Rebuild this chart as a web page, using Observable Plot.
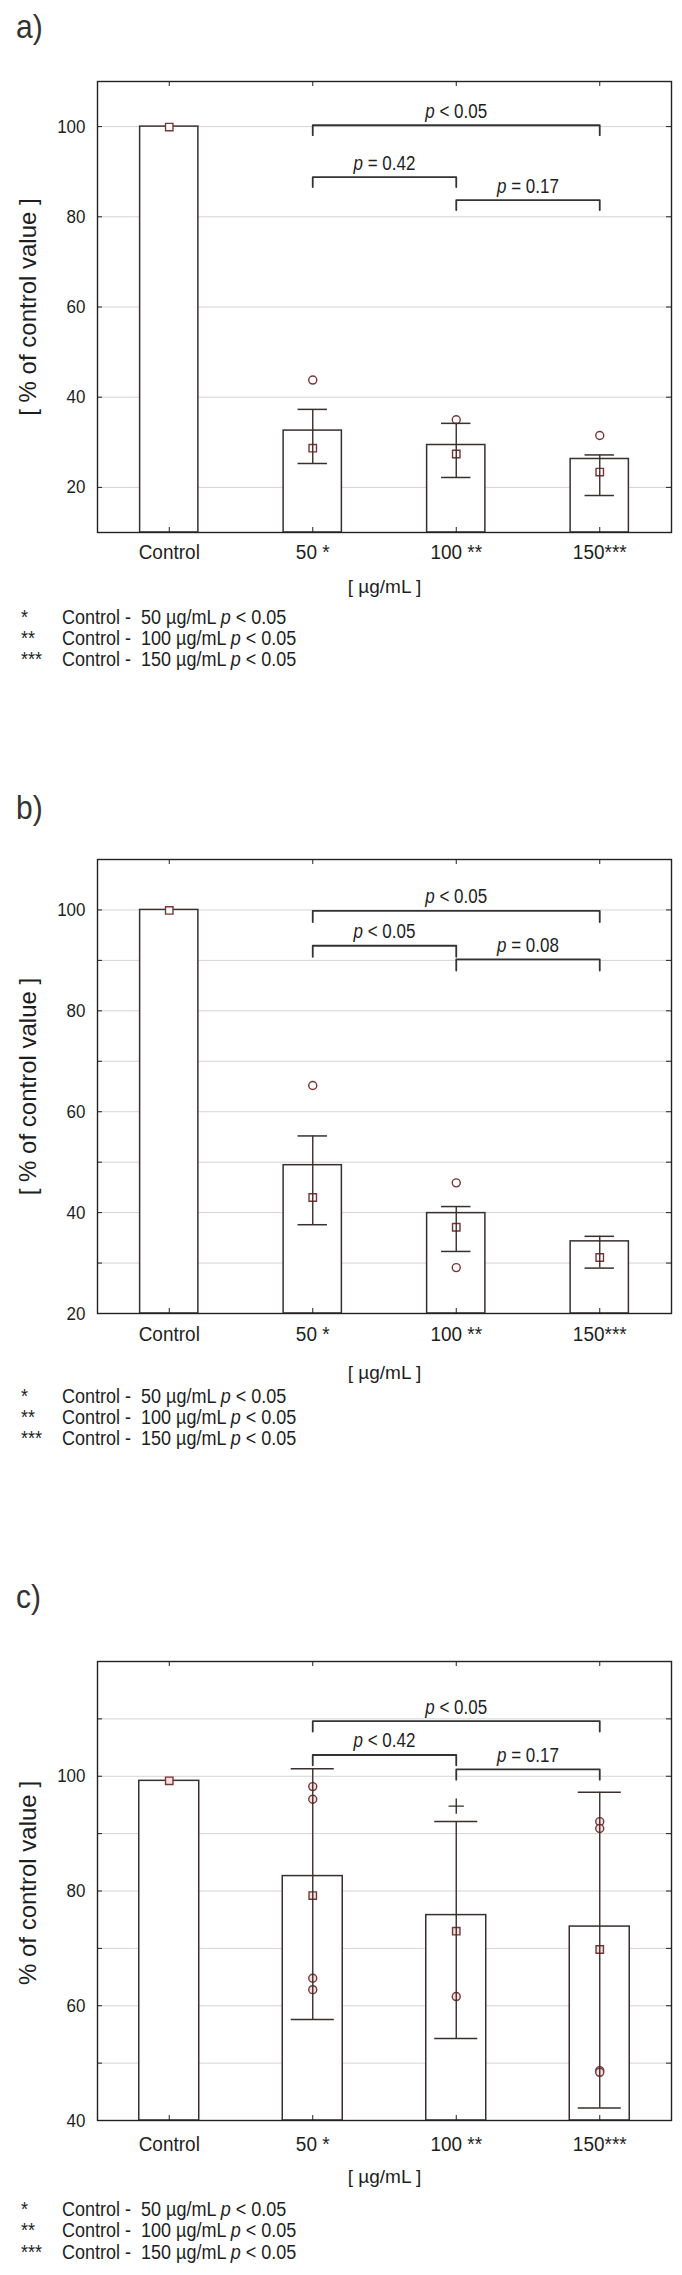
<!DOCTYPE html>
<html><head><meta charset="utf-8">
<script src="https://cdn.jsdelivr.net/npm/d3@7"></script>
<script src="https://cdn.jsdelivr.net/npm/@observablehq/plot@0.6"></script>
<style>
body{margin:0;background:#fff;}
#page{position:relative;width:682px;height:2275px;font-family:"Liberation Sans",Arial,sans-serif;color:#1e1e1e;overflow:hidden;background:#fff}
.plabel{position:absolute;left:16px;font-size:30px;line-height:34px;color:#333;transform:scaleY(1.1);transform-origin:0 50%}
.foot{position:absolute;font-size:18px;line-height:21px;color:#1e1e1e;white-space:pre;transform:scaleY(1.12);transform-origin:0 50%}
.wrap{position:absolute;left:0}
</style></head><body><div id="page"></div>
<script>
// ---------- data ----------
const categories = ["Control", "50 *", "100 **", "150***"];
const xAxisLabel = "[ µg/mL ]";

// panel a
const aMean   = [100, 32.6, 29.4, 26.3];
const aMedian = [99.9, 28.7, 27.4, 23.4];
const aLow    = [null, 25.3, 22.2, 18.2];
const aHigh   = [null, 37.3, 34.2, 27.2];
const aOutCat = ["50 *", "100 **", "150***"];
const aOutVal = [43.8, 35.0, 31.5];
const aBrFrom = ["50 *", "50 *", "100 **"];
const aBrTo   = ["150***", "100 **", "150***"];
const aBrLevel = [100.3, 88.8, 83.7];
const aBrLabel = ["p < 0.05", "p = 0.42", "p = 0.17"];
const aTicks = [20, 40, 60, 80, 100];
const aGrid  = [20, 40, 60, 80, 100];

// panel b
const bMean   = [100, 49.4, 39.9, 34.3];
const bMedian = [99.9, 43.0, 37.1, 31.1];
const bLow    = [null, 37.6, 32.3, 29.0];
const bHigh   = [null, 55.2, 41.2, 35.3];
const bOutCat = ["50 *", "100 **", "100 **"];
const bOutVal = [65.2, 45.9, 29.1];
const bBrFrom = ["50 *", "50 *", "100 **"];
const bBrTo   = ["150***", "100 **", "150***"];
const bBrLevel = [99.8, 92.9, 90.2];
const bBrLabel = ["p < 0.05", "p < 0.05", "p = 0.08"];
const bTicks = [20, 40, 60, 80, 100];
const bGrid  = [30, 40, 50, 60, 70, 80, 90, 100];

// panel c
const cMean   = [99.2, 82.6, 75.8, 73.8];
const cMedian = [99.2, 79.2, 73.0, 69.8];
const cLow    = [null, 57.6, 54.3, 42.2];
const cHigh   = [null, 101.3, 92.1, 97.2];
const cOutCat = ["50 *", "50 *", "50 *", "50 *", "100 **", "150***", "150***", "150***", "150***"];
const cOutVal = [98.2, 96.0, 64.8, 62.8, 61.6, 92.1, 90.9, 48.7, 48.4];
const cPlusCat = ["100 **"];
const cPlusVal = [94.8];
const cBrFrom = ["50 *", "50 *", "100 **"];
const cBrTo   = ["150***", "100 **", "150***"];
const cBrLevel = [109.6, 103.7, 101.2];
const cBrLabel = ["p < 0.05", "p < 0.42", "p = 0.17"];
const cTicks = [40, 60, 80, 100];
const cGrid  = [50, 60, 70, 80, 90, 100, 110];

const footStars = ["*", "**", "***"];
const footDoses = ["50", "100", "150"];

// ---------- layout ----------
const panels = [
  {name:"a)", labelY:27, frameTop:81, frameBottom:532, domain:[10,110], ticks:aTicks, grid:aGrid,
   mean:aMean, median:aMedian, low:aLow, high:aHigh, outCat:aOutCat, outVal:aOutVal, plusCat:[], plusVal:[],
   brFrom:aBrFrom, brTo:aBrTo, brLevel:aBrLevel, brLabel:aBrLabel,
   yLabel:"[ % of control value ]", yLabelDy:0, tickPad:12, xLabelDy:54, footY:[617,638,659],
   bw:0.203, cap:0.1025, drop:2.2, markerFill:"#fff"},
  {name:"b)", labelY:808, frameTop:859, frameBottom:1313, domain:[20,110], ticks:bTicks, grid:bGrid,
   mean:bMean, median:bMedian, low:bLow, high:bHigh, outCat:bOutCat, outVal:bOutVal, plusCat:[], plusVal:[],
   brFrom:bBrFrom, brTo:bBrTo, brLevel:bBrLevel, brLabel:bBrLabel,
   yLabel:"[ % of control value ]", yLabelDy:0, tickPad:13, xLabelDy:59, footY:[1396,1417,1438],
   bw:0.203, cap:0.1025, drop:2.2, markerFill:"#fff"},
  {name:"c)", labelY:1597, frameTop:1661, frameBottom:2120, domain:[40,120], ticks:cTicks, grid:cGrid,
   mean:cMean, median:cMedian, low:cLow, high:cHigh, outCat:cOutCat, outVal:cOutVal, plusCat:cPlusCat, plusVal:cPlusVal,
   brFrom:cBrFrom, brTo:cBrTo, brLevel:cBrLevel, brLabel:cBrLabel,
   yLabel:"% of control value ]", yLabelDy:-8, tickPad:16, xLabelDy:56, footY:[2209,2230,2252],
   bw:0.209, cap:0.15, drop:1.8, markerFill:"#f4e2e2"}
];

const page = document.getElementById("page");
const FONT = '"Liberation Sans", Arial, sans-serif';
const idx = c => categories.indexOf(c);
const ML = 97, MR = 11, W = 682, MT = 10, MB = 85;
const frameW = W - ML - MR;
const dark = "#3a2e2e", marker = "#7a3535", ink = "#1e1e1e";

// stretch glyphs vertically about the text's anchor point (only when positioned by a translate)
function stretch(t, k) {
  const tr = t.getAttribute("transform");
  if (!tr || !/translate/.test(tr) || /rotate/.test(tr)) return;
  t.setAttribute("transform", `${tr} scale(1,${k})`);
}

for (const p of panels) {
  const frameH = p.frameBottom - p.frameTop;
  const rows = categories.map((c, i) => ({i, mean: p.mean[i], med: p.median[i], lo: p.low[i], hi: p.high[i]}));
  const whisk = rows.filter(r => r.lo != null);
  const outs = p.outCat.map((c, k) => ({i: idx(c), v: p.outVal[k]}));
  const plus = p.plusCat.map((c, k) => ({i: idx(c), v: p.plusVal[k]}));
  const brackets = p.brFrom.map((f, k) => ({a: idx(f), b: idx(p.brTo[k]), level: p.brLevel[k], label: p.brLabel[k]}));
  const bpts = brackets.flatMap((b, k) => [
    {id: k, x: b.a, y: b.level - p.drop}, {id: k, x: b.a, y: b.level},
    {id: k, x: b.b, y: b.level}, {id: k, x: b.b, y: b.level - p.drop}]);
  const allTicks = Array.from(new Set(p.grid.concat(p.ticks)));

  const chart = Plot.plot({
    width: W, height: MT + frameH + MB,
    marginTop: MT, marginBottom: MB, marginLeft: ML, marginRight: MR,
    x: {type: "linear", domain: [-0.5, 3.5]},
    y: {type: "linear", domain: p.domain},
    style: {fontFamily: FONT, fontSize: "17px", color: ink, background: "transparent", overflow: "visible"},
    marks: [
      Plot.gridY(p.grid, {stroke: "#d4d4d4", strokeOpacity: 1}),
      Plot.rect(rows, {x1: d => d.i - p.bw, x2: d => d.i + p.bw, y1: () => p.domain[0], y2: "mean",
        fill: "#fff", stroke: dark, strokeWidth: 1.5}),
      Plot.dot(outs, {x: "i", y: "v", r: 4, stroke: marker, fill: p.markerFill, strokeWidth: 1.4}),
      Plot.dot(rows, {x: "i", y: "med", symbol: "square", r: 4.2, stroke: marker, fill: p.markerFill, strokeWidth: 1.4}),
      Plot.ruleX(whisk, {x: "i", y1: "lo", y2: "hi", stroke: dark, strokeWidth: 1.4}),
      Plot.ruleY(whisk, {y: "hi", x1: d => d.i - p.cap, x2: d => d.i + p.cap, stroke: dark, strokeWidth: 1.5}),
      Plot.ruleY(whisk, {y: "lo", x1: d => d.i - p.cap, x2: d => d.i + p.cap, stroke: dark, strokeWidth: 1.5}),
      Plot.dot(plus, {x: "i", y: "v", symbol: "plus", r: 5, stroke: dark, strokeWidth: 1.4}),
      Plot.line(bpts, {x: "x", y: "y", z: "id", stroke: "#333", strokeWidth: 1.8}),
      Plot.text(brackets, {x: d => (d.a + d.b) / 2, y: "level", text: "label", dy: -14, fontSize: 17, fill: ink}),
      Plot.tickY(allTicks, {y: d => d, insetRight: frameW - 5, stroke: "#222"}),
      Plot.tickY(allTicks, {y: d => d, insetLeft: frameW - 5, stroke: "#222"}),
      Plot.tickX([0, 1, 2, 3], {x: d => d, insetBottom: frameH - 5, stroke: "#222"}),
      Plot.tickX([0, 1, 2, 3], {x: d => d, insetTop: frameH - 5, stroke: "#222"}),
      Plot.axisY(p.ticks, {tickSize: 0, tickPadding: 12, fontSize: 17, label: null, fill: ink}),
      Plot.axisX([0, 1, 2, 3], {tickFormat: i => categories[i], tickSize: 0, tickPadding: p.tickPad, fontSize: 19, label: null, fill: ink}),
      Plot.text([p.yLabel], {frameAnchor: "left", textAnchor: "middle", lineAnchor: "middle", rotate: -90,
        dx: -69, dy: p.yLabelDy, text: d => d, fontSize: 24, fill: ink}),
      Plot.text([xAxisLabel], {frameAnchor: "bottom", textAnchor: "middle", lineAnchor: "middle",
        dy: p.xLabelDy, text: d => d, fontSize: 19, fill: ink}),
      Plot.frame({stroke: "#222", strokeWidth: 1.4})
    ]
  });

  // italic "p" in p-value labels, with slightly taller glyphs like the reference
  chart.querySelectorAll("text").forEach(t => {
    const m = t.textContent.match(/^p (.*)$/);
    if (m && !t.querySelector("tspan")) {
      t.textContent = "";
      const ts = document.createElementNS("http://www.w3.org/2000/svg", "tspan");
      ts.setAttribute("font-style", "italic");
      ts.textContent = "p";
      t.appendChild(ts);
      t.appendChild(document.createTextNode(" " + m[1]));
      stretch(t, 1.18);
    }
  });
  chart.querySelectorAll('g[aria-label="y-axis tick label"] text').forEach(t => stretch(t, 1.12));
  chart.querySelectorAll('g[aria-label="x-axis tick label"] text').forEach(t => stretch(t, 1.06));

  const wrap = document.createElement("div");
  wrap.className = "wrap";
  wrap.style.top = (p.frameTop - MT) + "px";
  wrap.appendChild(chart);
  page.appendChild(wrap);

  const lab = document.createElement("div");
  lab.className = "plabel";
  lab.style.top = (p.labelY - 17) + "px";
  lab.textContent = p.name;
  page.appendChild(lab);

  footStars.forEach((s, k) => {
    const st = document.createElement("div");
    st.className = "foot";
    st.style.left = "21px";
    st.style.top = (p.footY[k] - 10) + "px";
    st.textContent = s;
    page.appendChild(st);
    const tx = document.createElement("div");
    tx.className = "foot";
    tx.style.left = "62px";
    tx.style.top = (p.footY[k] - 10) + "px";
    tx.innerHTML = "Control -  " + footDoses[k] + " µg/mL <i>p</i> &lt; 0.05";
    page.appendChild(tx);
  });
}
</script></body></html>
